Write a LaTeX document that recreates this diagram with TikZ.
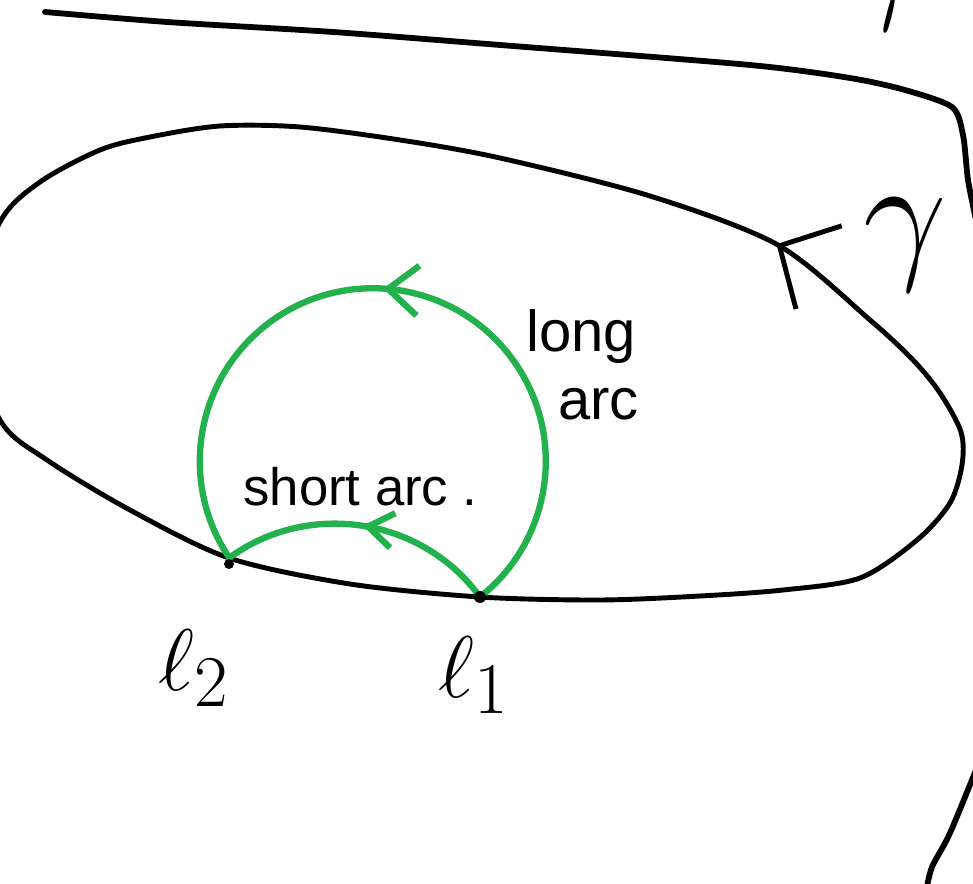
\documentclass[tikz,border=0pt]{standalone}
\usepackage{fontspec}
\setmainfont{Liberation Sans}
\usepackage{tikz}
\usetikzlibrary{arrows.meta, decorations.markings}
\definecolor{paintgreen}{RGB}{34,177,76}
\tikzset{
  gammaline/.style={line width=2.8pt, color=black, line join=round},
  outerline/.style={line width=3.3pt, color=black, line cap=round, line join=round},
  greenarc/.style={line width=3.6pt, color=paintgreen, line cap=round},
  midarrow/.style n args={3}{postaction={decorate},
    decoration={markings, mark=at position #1 with {\arrow{Straight Barb[length=#2, width=#3]}}}},
  hand/.style={font=\fontsize{33}{38}\selectfont, inner sep=0pt},
  shortlbl/.style={font=\fontsize{30}{34}\selectfont, inner sep=0pt},
  ptlbl/.style={font=\Huge, scale=2, inner sep=0pt},
  gammalbl/.style={font=\Huge, scale=3.4, inner sep=0pt},
  ptdot/.style={fill=black}
}
\begin{document}
\begin{tikzpicture}[x=0.02cm, y=-0.02cm]
  \useasboundingbox (0,0) rectangle (973,884);
  \clip (0,0) rectangle (973,884);

  % Outer curve
  \draw[outerline] plot[smooth, tension=0.45] coordinates {(45,12) (167,22) (333,32) (500,45) (750,65) (850,78) (905,90) (952,107) (963,135) (968,180) (976,220)};
  \draw[outerline] plot[smooth] coordinates {(980,760) (950,833) (932,867) (926,892)};
  \node[gammalbl] (gtop) at (882,-16) {$\gamma$};

  % Closed curve gamma
  \draw[gammaline, midarrow={1pt}{9mm}{19mm}] plot[smooth cycle] coordinates {(870,320) (778,245) (650,196) (500,158) (400,140) (300,127) (220,126) (150,137) (100,150) (40,182) (0,222) (-35,320) (0,420) (47,460) (130,510) (229,558) (350,584) (480,597) (600,600) (700,596) (783,590) (860,578) (917,540) (950,503) (962,465) (961,432) (940,393) (913,360)};
  \node[gammalbl] (glbl) at (905,245) {$\gamma$};

  % Points on gamma
  \coordinate (l1) at (480,597);
  \coordinate (l2) at (229,558);

  % Long and short arc
  \draw[greenarc, midarrow={0.52}{6mm}{10mm}] (l1) arc[start angle=51.7, end angle=-214.2, radius=173];
  \draw[greenarc, midarrow={0.5}{5mm}{7mm}] (l1) .. controls (422,517) and (308,500) .. (l2);
  \fill[ptdot] (l1) circle (6);
  \fill[ptdot] (l2) ++(0,6) circle (5);

  % Labels
  \node[hand, anchor=base west] (longlbl) at (526,352) {long};
  \node[hand, anchor=base west] (arclbl) at (558,420) {arc};
  \node[shortlbl, anchor=base west] (shortlbl) at (243,506) {short arc .};
  \node[ptlbl, anchor=base west] (l2lbl) at (158,690) {$\ell_2$};
  \node[ptlbl, anchor=base west] (l1lbl) at (438,697) {$\ell_1$};
\end{tikzpicture}
\end{document}
